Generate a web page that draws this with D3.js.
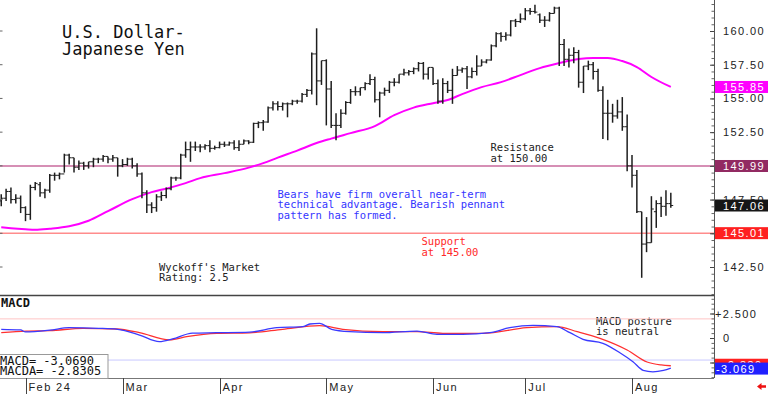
<!DOCTYPE html>
<html>
<head>
<meta charset="utf-8">
<script src="https://cdn.jsdelivr.net/npm/d3@7"></script>
<style>
  body { margin: 0; background: #fff; }
  svg { display: block; }
  text { font-family: "DejaVu Sans Mono", monospace; }
  .ax text { font-family: "Liberation Sans", Arial, sans-serif; font-size: 11px; letter-spacing: 1.4px; fill: #222; }
</style>
</head>
<body>
<svg width="768" height="394"></svg>
<script>
// daily bars, Jan 25 .. Aug 13 2024, one entry per trading day
var opens  = [147.4,147.6,148.1,147.5,147.6,146.9,146.4,148.4,148.6,148.0,148.2,149.3,149.3,149.4,150.8,150.6,149.9,150.2,150.0,150.3,
              150.5,150.5,150.7,150.5,150.6,150.0,150.1,150.5,150.0,149.4,148.0,147.1,146.9,147.7,147.8,148.3,149.1,149.1,150.8,151.2,
              151.4,151.4,151.4,151.5,151.3,151.35,151.6,151.55,151.7,151.35,151.6,151.85,151.75,153.15,153.2,153.25,154.3,154.6,154.4,154.6,
              154.6,154.8,154.8,155.3,155.6,158.3,156.3,157.8,155.7,153.0,153.0,153.9,154.7,155.5,155.5,155.8,156.1,156.4,154.9,155.4,
              155.6,156.2,156.2,156.8,156.9,157.0,157.2,157.6,156.8,157.3,156.1,154.8,156.1,155.6,156.7,157.1,157.2,156.6,157.0,157.4,
              157.7,157.85,158.9,159.8,159.6,159.7,160.75,160.7,160.9,161.5,161.45,161.2,160.8,160.8,161.3,161.7,159.0,157.9,158.2,158.4,
              156.2,157.4,157.5,157.0,155.6,153.9,153.9,153.7,154.0,152.9,150.0,149.3,146.6,144.2,144.3,146.6,147.2,147.0,147.2];
var highs  = [147.9,148.3,148.4,147.9,147.8,147.0,148.6,148.8,148.8,148.3,149.4,149.5,149.5,150.9,150.9,150.6,150.4,150.3,150.3,150.6,
              150.6,150.8,150.7,150.8,150.6,150.5,150.6,150.6,150.2,149.5,148.2,147.3,147.9,148.1,148.4,149.2,149.2,150.9,151.8,151.8,
              151.8,151.6,151.6,151.9,151.5,151.8,151.8,151.8,151.9,151.9,151.95,151.9,153.2,153.3,153.4,154.4,154.8,154.8,154.7,154.7,
              154.9,154.9,155.4,155.7,158.4,160.2,157.8,157.9,156.3,153.9,154.2,154.8,155.7,155.9,155.8,156.2,156.8,156.6,155.5,155.8,
              156.3,156.5,156.8,157.2,157.1,157.3,157.7,157.7,157.3,157.3,156.4,156.5,156.3,157.2,157.4,157.3,157.4,157.3,158.2,157.9,
              157.9,159.0,159.9,159.9,159.9,160.8,160.9,161.3,161.7,161.7,161.95,161.3,161.1,161.4,161.8,161.8,159.4,158.7,158.8,158.6,
              157.4,157.8,157.7,157.2,155.9,154.9,154.6,154.9,155.1,153.8,150.8,149.7,146.6,146.2,147.75,147.45,147.7,148.2,148.0];
var lows   = [147.0,147.4,147.2,147.2,146.5,145.9,146.0,148.2,147.7,147.6,148.0,148.9,149.0,149.5,150.1,149.5,149.7,149.7,149.8,149.9,
              150.2,150.3,150.2,150.3,149.2,149.9,150.0,149.8,149.2,147.6,146.5,146.5,146.6,147.4,147.6,148.2,148.9,149.0,150.6,150.3,
              151.1,151.0,151.2,151.0,151.2,151.3,151.4,151.5,151.2,151.1,151.6,151.6,151.7,152.8,152.6,153.2,154.1,154.1,154.1,153.6,
              154.5,154.6,154.7,155.1,155.3,154.5,156.0,153.0,152.8,151.9,152.8,153.8,154.6,155.2,155.2,155.6,156.0,154.7,153.6,155.2,
              155.4,155.9,156.1,156.7,156.7,156.8,157.0,156.4,156.4,156.0,154.6,154.6,155.4,154.6,156.7,156.9,155.7,156.5,156.7,157.4,
              157.6,157.8,158.8,159.2,159.3,159.6,160.3,160.6,160.8,161.2,161.3,160.6,160.3,160.7,161.3,157.4,157.4,157.3,157.6,155.8,
              155.4,157.1,156.4,155.5,152.0,151.9,153.2,153.5,152.6,149.6,148.4,146.5,141.7,143.6,144.3,145.4,146.2,146.3,146.9];
var closes = [147.6,148.1,147.5,147.6,146.9,146.4,148.4,148.7,148.0,148.2,149.3,149.3,149.4,150.8,150.6,149.9,150.2,150.0,150.3,150.5,
              150.5,150.7,150.5,150.6,150.0,150.1,150.5,150.0,149.4,148.0,147.1,146.9,147.7,147.8,148.3,149.1,149.1,150.8,151.2,151.4,
              151.4,151.4,151.5,151.3,151.35,151.6,151.55,151.7,151.35,151.6,151.85,151.75,153.15,153.2,153.25,154.3,154.6,154.4,154.6,154.6,
              154.8,154.8,155.3,155.6,158.3,156.3,157.8,155.7,153.0,153.0,153.9,154.7,155.5,155.5,155.8,156.1,156.4,154.9,155.4,155.6,
              156.2,156.2,156.8,156.9,157.0,157.2,157.6,156.8,157.3,156.1,154.8,156.1,155.6,156.7,157.1,157.2,156.6,157.0,157.4,157.7,
              157.85,158.9,159.8,159.6,159.7,160.75,160.7,160.9,161.5,161.45,161.4,160.8,160.8,161.3,161.7,159.0,157.9,158.2,158.4,156.2,
              157.4,157.5,157.0,155.6,153.9,153.9,153.7,154.0,152.9,150.0,149.3,146.6,144.2,144.3,146.8,147.2,147.0,147.2,147.06];

// moving average, [bar index, price]
var maLine = [[0,145.45],[2,145.38],[5,145.30],[7,145.26],[10,145.34],[14,145.52],[18,145.93],[22,146.64],[27,147.53],
              [31,148.05],[34,148.31],[38,148.72],[41,149.09],[46,149.46],[51,149.87],[54,150.20],[57,150.61],[61,151.13],
              [65,151.69],[68,152.02],[72,152.43],[77,152.95],[81,153.76],[85,154.32],[89,154.65],[92,154.88],[95,155.32],
              [99,155.84],[103,156.21],[107,156.73],[111,157.25],[115,157.62],[119,157.92],[122,158.0],[125,158.0],
              [128,157.77],[131,157.33],[134,156.59],[138,155.85]];

// MACD (blue) and MACDA (red), [bar index, value]
var macdLine = [[0,0.89],[4,0.82],[5,0.62],[10,0.80],[14,1.05],[20,0.99],[24,0.89],[28.5,0.30],[32.6,-0.38],[35.3,-0.10],
                [39.4,0.50],[44.4,0.54],[51.2,0.60],[56.8,1.05],[62.1,1.16],[63.6,1.43],[65.6,1.50],[68.1,0.89],[71.8,0.65],
                [78.6,0.54],[85.7,0.71],[89.8,0.37],[95.1,0.37],[100.7,0.54],[104.8,1.05],[109.6,1.29],[114.5,1.16],[117.2,0.54],
                [119.9,-0.13],[124,-0.54],[127.5,-1.5],[130.2,-2.42],[132.3,-3.3],[134.3,-3.45],[136.5,-3.3],[138,-3.069]];
var macdaLine = [[0,0.54],[5.2,0.71],[10,0.75],[16.8,0.99],[23.8,0.92],[28.5,0.54],[34.7,-0.2],[38.2,0.13],[44.4,0.48],
                 [51.2,0.53],[58,0.89],[65.6,1.26],[70.4,0.89],[78.6,0.65],[85.7,0.65],[91,0.48],[99.3,0.48],[108.3,1.05],
                 [114.5,1.16],[118.7,0.65],[123.4,-0.03],[129,-1.22],[133.1,-2.45],[136,-2.75],[138,-2.8305]];

var monthTicks = [[5,"Feb 24"],[25,"Mar"],[45,"Apr"],[67,"May"],[89,"Jun"],[108,"Jul"],[130,"Aug"]];
var priceTicks = [142.5,145,147.5,150,152.5,155,157.5,160];
var macdTicks = [2.5,0,-2.5];
var macdRefs = [1.95,-2.25];
var resistance = 149.99, support = 145.01;
var lastMA = 155.85, lastClose = 147.06;
var lastMacd = -3.069, lastMacda = -2.8305;

var svg = d3.select("svg"),
    axisX = 714, priceBottom = 295, macdBottom = 378;

var x = d3.scaleLinear().domain([5, 130]).range([25.5, 632]),
    y = d3.scaleLinear().domain([142.5, 160]).range([267, 31]),
    ym = d3.scaleLinear().domain([-2.5, 2.5]).range([362.5, 313.5]);

svg.append("defs").append("clipPath")
    .attr("id", "clipP")
  .append("rect")
    .attr("width", axisX)
    .attr("height", priceBottom);

// support / resistance
svg.append("line").attr("x1", 0).attr("x2", axisX)
    .attr("y1", y(resistance)).attr("y2", y(resistance))
    .attr("stroke", "#c86a9c").attr("stroke-width", 1.3);
svg.append("line").attr("x1", 0).attr("x2", axisX)
    .attr("y1", y(support)).attr("y2", y(support))
    .attr("stroke", "#ff8c8c").attr("stroke-width", 1.5);

var bars = closes.map(function (c, i) {
  return { i: i, o: opens[i], h: highs[i], l: lows[i], c: c };
});

var gp = svg.append("g").attr("clip-path", "url(#clipP)");

gp.append("path")
    .datum(maLine)
    .attr("fill", "none")
    .attr("stroke", "#ff00ff")
    .attr("stroke-width", 2)
    .attr("d", d3.line().curve(d3.curveMonotoneX)
        .x(function (d) { return x(d[0]); })
        .y(function (d) { return y(d[1]); }));

var gb = gp.append("g").attr("stroke", "#1e1e1e");
gb.selectAll(".hl").data(bars).join("line")
    .attr("class", "hl")
    .attr("stroke-width", 1.5)
    .attr("x1", function (d) { return x(d.i); })
    .attr("x2", function (d) { return x(d.i); })
    .attr("y1", function (d) { return y(d.h); })
    .attr("y2", function (d) { return y(d.l); });
gb.selectAll(".op").data(bars).join("line")
    .attr("class", "op")
    .attr("x1", function (d) { return x(d.i) - 2.4; })
    .attr("x2", function (d) { return x(d.i); })
    .attr("y1", function (d) { return y(d.o); })
    .attr("y2", function (d) { return y(d.o); });
gb.selectAll(".cl").data(bars).join("line")
    .attr("class", "cl")
    .attr("x1", function (d) { return x(d.i); })
    .attr("x2", function (d) { return x(d.i) + 2.4; })
    .attr("y1", function (d) { return y(d.c); })
    .attr("y2", function (d) { return y(d.c); });

// left edge ticks
svg.append("g").selectAll("line").data(priceTicks).join("line")
    .attr("x1", 0).attr("x2", 2.5)
    .attr("y1", function (d) { return y(d); })
    .attr("y2", function (d) { return y(d); })
    .attr("stroke", "#666");

// texts in price panel
function lines(txt, x0, y0, color, size) {
  var t = svg.append("text").attr("x", x0).attr("y", y0)
      .attr("fill", color).style("font-size", size + "px");
  txt.forEach(function (s, k) {
    t.append("tspan").attr("x", x0).attr("dy", k ? size * 1.0 : 0).text(s);
  });
}
lines(["U.S. Dollar-", "Japanese Yen"], 62, 38, "#111", 17);
lines(["Resistance", "at 150.00"], 490.5, 151, "#222", 10.5);
lines(["Bears have firm overall near-term", "technical advantage. Bearish pennant", "pattern has formed."], 277.5, 197.5, "#3535ff", 10.5);
lines(["Support", "at 145.00"], 421.5, 245, "#ff2a2a", 10.5);
lines(["Wyckoff's Market", "Rating: 2.5"], 159, 270.5, "#222", 10.5);
lines(["MACD posture", "is neutral"], 596, 324.5, "#222", 10.5);

// panel borders
svg.append("line").attr("x1", 0).attr("x2", axisX).attr("y1", priceBottom + 0.5).attr("y2", priceBottom + 0.5)
    .attr("stroke", "#444").attr("stroke-width", 1.3);
svg.append("line").attr("x1", 0).attr("x2", axisX).attr("y1", macdBottom + 0.5).attr("y2", macdBottom + 0.5)
    .attr("stroke", "#777");

// MACD panel
svg.append("g").selectAll("line").data(macdRefs).join("line")
    .attr("x1", 0).attr("x2", axisX)
    .attr("y1", function (d) { return ym(d); })
    .attr("y2", function (d) { return ym(d); })
    .attr("stroke", function (d) { return d > 0 ? "#ffc4c4" : "#c8c8ff"; });

var mline = d3.line().curve(d3.curveMonotoneX)
    .x(function (d) { return x(d[0]); })
    .y(function (d) { return ym(d[1]); });
svg.append("path").datum(macdaLine).attr("fill", "none")
    .attr("stroke", "#ff3030").attr("stroke-width", 1.3).attr("d", mline);
svg.append("path").datum(macdLine).attr("fill", "none")
    .attr("stroke", "#3a3aff").attr("stroke-width", 1.3).attr("d", mline);

svg.append("text").attr("x", 1).attr("y", 307)
    .style("font-size", "12px").style("font-weight", "bold").attr("fill", "#111").text("MACD");

var box = svg.append("g");
box.append("rect").attr("x", -1).attr("y", 354.5).attr("width", 109).attr("height", 24)
    .attr("fill", "#fff").attr("stroke", "#999");
box.append("text").attr("x", 0).attr("y", 364.5).style("font-size", "12px").attr("fill", "#111")
    .text("MACD=  " + lastMacd.toFixed(4));
box.append("text").attr("x", 0).attr("y", 375).style("font-size", "12px").attr("fill", "#111")
    .text("MACDA= " + lastMacda.toFixed(4));

// right axis
var ax = svg.append("g").attr("class", "ax").attr("transform", "translate(" + axisX + ",0)");
ax.append("line").attr("x1", 0.5).attr("x2", 0.5).attr("y1", 0).attr("y2", macdBottom)
    .attr("stroke", "#555");

var minorP = d3.range(140.5, 162.5, 0.5), minorM = d3.range(-4, 4.01, 0.5);
ax.append("g").call(d3.axisRight(y).tickValues(minorP).tickSize(-2.5).tickFormat(""))
    .call(function (g) { g.select(".domain").remove(); g.selectAll("line").attr("stroke", "#666"); });
ax.append("g").call(d3.axisRight(ym).tickValues(minorM.filter(function (v) { return ym(v) > priceBottom + 3 && ym(v) < macdBottom; }))
    .tickSize(-2.5).tickFormat(""))
    .call(function (g) { g.select(".domain").remove(); g.selectAll("line").attr("stroke", "#666"); });

ax.append("g").call(d3.axisRight(y).tickValues(priceTicks).tickSize(-4).tickPadding(9).tickFormat(d3.format(".2f")))
    .call(function (g) { g.select(".domain").remove(); g.selectAll("line").attr("stroke", "#444"); });
ax.append("g").call(d3.axisRight(ym).tickValues(macdTicks).tickSize(-4).tickPadding(9)
    .tickFormat(function (d) { return d > 0 ? "+" + d.toFixed(3) : d === 0 ? "0" : d.toFixed(3); }))
    .call(function (g) {
      g.select(".domain").remove();
      g.selectAll("line").attr("stroke", "#444");
      g.selectAll("text").attr("dx", function (d) { return d > 0 ? -8 : d < 0 ? -7 : 0; });
    });

// value flags on the axis
function flag(yy, fill, txt) {
  var g = svg.append("g").attr("class", "ax");
  g.append("rect").attr("x", axisX + 1).attr("y", yy - 6).attr("width", 768 - axisX).attr("height", 12).attr("fill", fill);
  g.append("text").attr("x", axisX + 9).attr("y", yy + 4).style("fill", "#fff").text(txt);
}
flag(y(lastMA), "#ff00ff", lastMA.toFixed(2));
flag(y(resistance), "#922a62", resistance.toFixed(2));
flag(y(lastClose), "#161616", lastClose.toFixed(2));
flag(y(support), "#ff2020", support.toFixed(2));
flag(ym(lastMacda) - 1, "#ff2020", lastMacda.toFixed(3));
flag(ym(lastMacd) + 0.5, "#2020ff", lastMacd.toFixed(3));
svg.selectAll(".ax text").filter(function () { return this.textContent === lastMacd.toFixed(3); })
    .attr("x", axisX + 2);

// date axis
var gd = svg.append("g").attr("class", "ax");
gd.selectAll("line").data(monthTicks).join("line")
    .attr("x1", function (d) { return Math.round(x(d[0])) + 0.5; })
    .attr("x2", function (d) { return Math.round(x(d[0])) + 0.5; })
    .attr("y1", macdBottom).attr("y2", 394)
    .attr("stroke", "#444");
gd.selectAll("text").data(monthTicks).join("text")
    .attr("x", function (d) { return x(d[0]) + 3; })
    .attr("y", 391)
    .text(function (d) { return d[1]; });

// small red arrow, bottom right
svg.append("path")
    .attr("d", "M757,386.5 L761.5,383 L761.5,385.3 L766,385.3 L766,387.7 L761.5,387.7 L761.5,390 Z")
    .attr("fill", "#ee1111");
</script>
</body>
</html>
